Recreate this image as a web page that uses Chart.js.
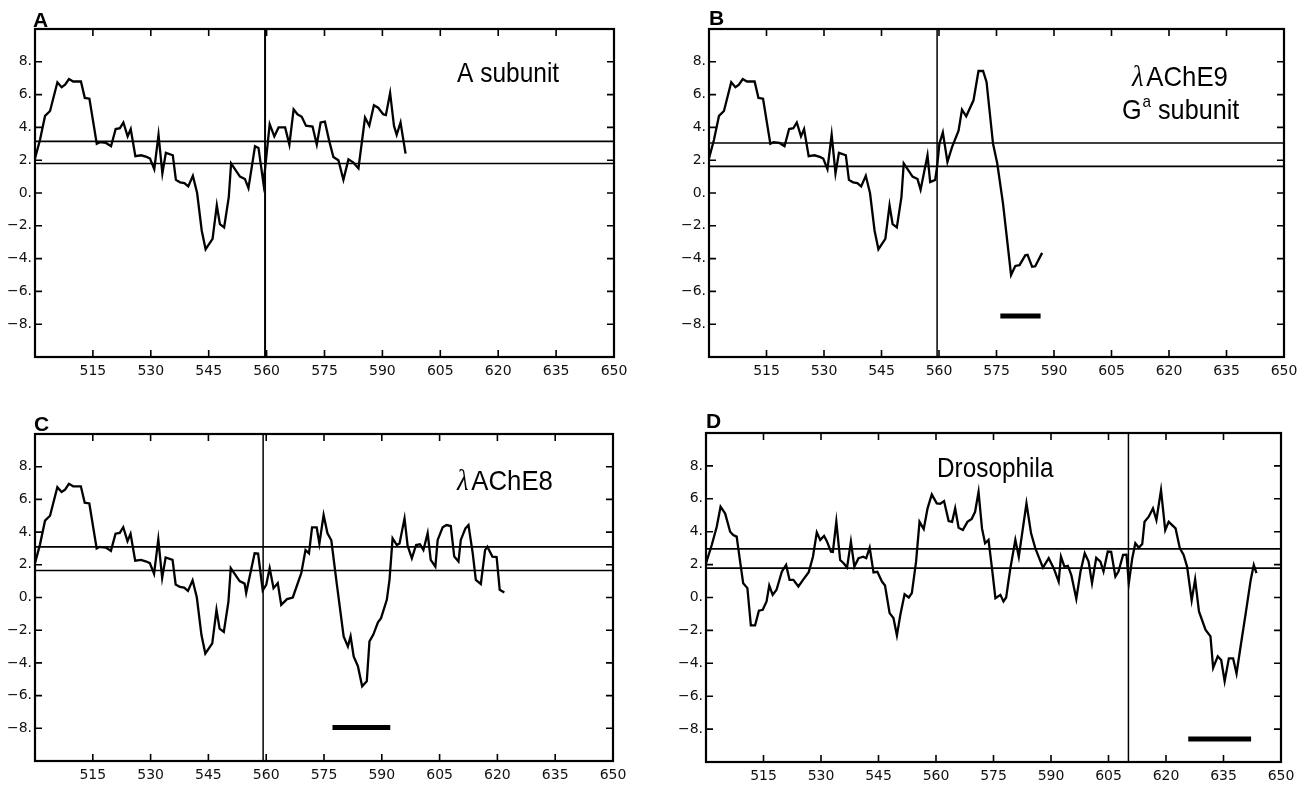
<!DOCTYPE html>
<html><head><meta charset="utf-8">
<script src="https://cdn.jsdelivr.net/npm/chart.js@4.4.1/dist/chart.umd.min.js"></script>
<style>
html,body{margin:0;padding:0;background:#fff;width:1305px;height:785px;overflow:hidden;position:relative}
canvas{position:absolute}
</style></head><body>
<canvas id="cA"></canvas><canvas id="cB"></canvas><canvas id="cC"></canvas><canvas id="cD"></canvas>
<script>
// ---------- data ----------
const xTicks = [515, 530, 545, 560, 575, 590, 605, 620, 635, 650];
const yTicks = [-8, -6, -4, -2, 0, 2, 4, 6, 8];

// shared part of the vertebrate profiles (residues 500-554)
const baseX = [500, 501.3, 502.6, 503.9, 505.8, 506.9, 507.8, 508.8, 509.9, 511.9, 512.9, 514.1, 516.0, 516.8, 518.4, 519.7, 520.9, 522.0, 522.9, 524.0, 524.8, 526.0, 527.5, 528.9, 529.8, 530.9, 532.0, 533.0, 533.9, 535.7, 536.5, 537.6, 538.7, 539.7, 540.9, 542.0, 543.2, 544.2, 546.0, 547.1, 547.9, 549.0, 550.2, 550.8, 553.1, 554.4];
const baseY = [2.1, 3.25, 4.7, 5.0, 6.75, 6.45, 6.6, 6.95, 6.8, 6.8, 5.8, 5.75, 3.0, 3.1, 3.05, 2.85, 3.9, 3.95, 4.3, 3.45, 3.9, 2.25, 2.3, 2.2, 2.1, 1.45, 3.55, 1.2, 2.45, 2.3, 0.8, 0.65, 0.6, 0.4, 1.05, 0.0, -2.3, -3.43, -2.8, -0.75, -1.9, -2.1, -0.25, 1.8, 1.0, 0.85];

const tailAX = [555.3, 557.0, 557.9, 559.2, 560.8, 562.0, 563.1, 564.8, 565.9, 567.0, 568.0, 569.1, 570.2, 571.9, 573.0, 574.0, 575.1, 576.3, 577.3, 578.6, 579.9, 581.2, 582.5, 583.8, 585.5, 586.6, 587.8, 588.9, 590.2, 590.9, 592.0, 593.0, 593.7, 594.7, 596.0];
const tailAY = [0.3, 2.85, 2.75, 0.55, 4.2, 3.45, 4.0, 4.0, 2.95, 5.1, 4.8, 4.65, 4.1, 4.05, 2.95, 4.3, 4.35, 3.1, 2.2, 2.0, 0.8, 2.05, 1.85, 1.5, 4.6, 4.1, 5.35, 5.2, 4.8, 4.75, 6.1, 4.1, 3.55, 4.3, 2.4];

const tailBX = [555.2, 557.0, 557.7, 559.0, 559.5, 560.1, 561.0, 562.2, 563.4, 565.1, 566.0, 567.1, 569.0, 570.3, 571.5, 572.4, 574.1, 575.2, 576.7, 578.8, 579.9, 581.0, 582.5, 583.1, 584.3, 585.1, 586.9];
const tailBY = [0.2, 2.3, 0.67, 0.8, 1.6, 3.0, 3.7, 1.9, 2.8, 3.8, 5.08, 4.68, 5.65, 7.44, 7.44, 6.77, 3.0, 1.8, -0.65, -5.0, -4.45, -4.4, -3.8, -3.77, -4.5, -4.47, -3.65];

const tailCX = [554.8, 557.0, 557.9, 559.1, 560.0, 560.9, 561.9, 563.0, 563.9, 565.4, 566.9, 569.1, 570.2, 571.1, 571.9, 573.1, 573.8, 574.9, 575.9, 576.9, 578.3, 580.1, 581.2, 581.9, 582.7, 583.8, 584.9, 586.1, 586.8, 587.8, 589.0, 589.8, 591.3, 592.0, 592.8, 593.9, 594.6, 595.9, 596.7, 597.8, 598.9, 599.9, 600.8, 601.9, 602.7, 603.9, 604.5, 605.8, 606.8, 607.9, 608.8, 609.9, 610.5, 611.7, 612.5, 613.6, 614.4, 615.7, 616.8, 617.4, 618.7, 619.8, 620.6, 621.8];
const tailCY = [0.27, 2.7, 2.68, 0.43, 0.77, 1.8, 0.57, 0.88, -0.45, -0.1, 0.0, 1.49, 2.9, 2.7, 4.29, 4.29, 3.3, 5.04, 3.93, 3.5, 0.87, -2.38, -2.99, -2.38, -3.6, -4.2, -5.43, -5.12, -2.68, -2.27, -1.52, -1.26, -0.14, 1.08, 3.62, 3.21, 3.3, 4.84, 3.17, 2.4, 3.21, 3.26, 2.9, 3.93, 2.3, 1.89, 3.52, 4.29, 4.43, 4.37, 2.5, 2.2, 3.52, 4.23, 4.43, 2.7, 1.08, 0.83, 2.9, 3.11, 2.5, 2.47, 0.47, 0.3];

const droX = [500, 501.5, 502.8, 503.8, 505.0, 506.3, 507.1, 508.0, 508.9, 509.7, 510.8, 511.7, 512.8, 513.8, 514.8, 515.8, 516.5, 517.4, 518.4, 519.8, 520.9, 521.8, 522.8, 524.1, 525.5, 526.8, 527.9, 528.9, 529.8, 530.8, 531.5, 532.6, 533.1, 534.0, 535.0, 535.9, 536.8, 537.8, 538.7, 539.8, 541.0, 541.8, 542.7, 543.7, 544.7, 545.9, 546.7, 547.9, 548.9, 549.8, 550.7, 551.8, 552.9, 553.7, 554.8, 555.7, 556.8, 557.8, 558.9, 560.2, 561.1, 562.1, 563.3, 564.2, 565.0, 565.9, 567.0, 568.2, 569.3, 570.2, 571.1, 572.0, 572.8, 573.7, 574.6, 575.5, 576.8, 577.6, 578.3, 579.4, 580.7, 581.6, 583.6, 584.8, 585.9, 587.9, 589.4, 590.7, 592.0, 592.6, 593.5, 594.4, 595.3, 596.6, 597.7, 598.8, 599.8, 600.7, 601.8, 602.9, 603.7, 604.8, 605.7, 606.8, 607.6, 608.8, 609.7, 610.3, 611.2, 612.0, 612.9, 613.8, 614.4, 615.5, 616.6, 617.5, 618.7, 619.8, 620.7, 622.5, 623.6, 624.6, 625.5, 626.7, 627.6, 628.6, 630.3, 631.6, 632.3, 633.5, 634.4, 635.3, 636.4, 637.5, 638.4, 639.4, 640.8, 642.1, 642.9, 643.6];
const droY = [2.08, 3.19, 4.3, 5.52, 5.1, 4.0, 3.8, 3.7, 2.18, 0.87, 0.57, -1.7, -1.7, -0.8, -0.75, -0.24, 0.73, 0.16, 0.47, 1.58, 1.98, 1.07, 1.07, 0.67, 1.13, 1.54, 2.48, 3.96, 3.5, 3.74, 3.44, 2.79, 2.77, 4.61, 2.28, 2.08, 1.82, 3.4, 1.88, 2.39, 2.48, 2.39, 3.03, 1.52, 1.56, 0.97, 0.73, -0.95, -1.25, -2.3, -1.05, 0.2, 0.0, 0.27, 2.18, 4.6, 4.16, 5.42, 6.27, 5.72, 5.7, 5.86, 4.65, 4.6, 5.42, 4.24, 4.1, 4.6, 4.77, 5.21, 6.42, 4.2, 3.3, 3.5, 1.78, -0.04, 0.16, -0.24, 0.0, 1.78, 3.5, 2.48, 5.72, 3.9, 3.0, 1.82, 2.39, 1.78, 0.97, 2.48, 1.88, 1.92, 1.37, -0.08, 1.58, 2.69, 2.18, 0.87, 2.42, 2.18, 1.58, 2.79, 2.77, 1.27, 1.58, 2.59, 2.6, 0.87, 2.39, 3.3, 3.03, 3.25, 4.6, 4.91, 5.42, 4.71, 6.53, 4.1, 4.6, 4.2, 3.0, 2.59, 1.88, -0.17, 1.1, -0.85, -1.96, -2.36, -4.28, -3.58, -3.8, -5.09, -3.7, -3.7, -4.62, -3.07, -0.95, 1.07, 1.98, 1.48];

// threshold lines [upper, lower], exon boundary, hydrophobic segment bar [start, end, level]
const thrA = [3.15, 1.8], thrB = [3.05, 1.62], thrC = [3.1, 1.65], thrD = [2.95, 1.78];
const boundaryA = 559.6, boundaryB = 559.5, boundaryC = 559.2, boundaryD = 610.2;
const barB = [576, 586.5, -7.5], barC = [577.2, 592.2, -7.95], barD = [625.8, 642.2, -8.6];

// ---------- drawing ----------
const X_MIN = 500, X_MAX = 650, Y_MIN = -10, Y_MAX = 10;
const PAD_L = 35, PAD_T = 30, PAD_R = 25, PAD_B = 28;

const panels = [
  {id:'cA', rect:[35,29,614,357], letter:'A', letterPos:[33,27],
   xs: baseX.concat(tailAX), ys: baseY.concat(tailAY), thr: thrA, boundary: boundaryA, bar: null,
   labels:[{parts:[{t:'A subunit'}], x:457, y:82, sx:0.875}]},
  {id:'cB', rect:[709,29,1284,357], letter:'B', letterPos:[709,25],
   xs: baseX.concat(tailBX), ys: baseY.concat(tailBY), thr: thrB, boundary: boundaryB, bar: barB,
   labels:[{parts:[{t:'λ', lam:true},{t:'AChE9'}], x:1132, y:86, sx:0.92},
           {parts:[{t:'G'},{t:'a', sup:true},{t:' subunit'}], x:1122, y:119, sx:0.9}]},
  {id:'cC', rect:[35,434,613,761], letter:'C', letterPos:[34,431],
   xs: baseX.concat(tailCX), ys: baseY.concat(tailCY), thr: thrC, boundary: boundaryC, bar: barC,
   labels:[{parts:[{t:'λ', lam:true},{t:'AChE8'}], x:457, y:490, sx:0.92}]},
  {id:'cD', rect:[706,433,1281,762], letter:'D', letterPos:[706,428],
   xs: droX, ys: droY, thr: thrD, boundary: boundaryD, bar: barD,
   labels:[{parts:[{t:'Drosophila'}], x:937, y:477, sx:0.87}]}
];

const SANS = '"Liberation Sans", Arial, sans-serif';

const framePlugin = {
  id: 'frame',
  afterDraw(chart, args, opts) {
    const {ctx, chartArea: a, scales: {x, y}} = chart;
    ctx.save();
    ctx.strokeStyle = '#000';
    ctx.lineWidth = 1.6;
    const L = 7;
    ctx.beginPath();
    x.ticks.forEach(t => {
      const px = x.getPixelForValue(t.value);
      if (px < a.right - 2) {
        ctx.moveTo(px, a.bottom); ctx.lineTo(px, a.bottom - L);
        ctx.moveTo(px, a.top); ctx.lineTo(px, a.top + L);
      }
    });
    y.ticks.forEach(t => {
      const py = y.getPixelForValue(t.value);
      ctx.moveTo(a.left, py); ctx.lineTo(a.left + L, py);
      ctx.moveTo(a.right, py); ctx.lineTo(a.right - L, py);
    });
    ctx.stroke();
    ctx.lineWidth = 2.2;
    ctx.strokeRect(a.left, a.top, a.right - a.left, a.bottom - a.top);

    // panel letter & labels
    const ox = opts.ox, oy = opts.oy;
    ctx.fillStyle = '#000';
    ctx.textBaseline = 'alphabetic';
    ctx.textAlign = 'left';
    ctx.font = 'bold 21px ' + SANS;
    ctx.fillText(opts.letter, opts.letterPos[0] - ox, opts.letterPos[1] - oy);

    opts.labels.forEach(lb => {
      ctx.save();
      ctx.translate(lb.x - ox, lb.y - oy);
      ctx.scale(lb.sx, 1);
      let cx = 0;
      lb.parts.forEach(p => {
        if (p.lam) {
          ctx.font = 'italic 29px "Liberation Serif", "DejaVu Serif", serif';
          ctx.fillText(p.t, cx, 0);
          cx += ctx.measureText(p.t).width + 3;
        } else if (p.sup) {
          ctx.font = '17px ' + SANS;
          ctx.fillText(p.t, cx + 1, -12);
          cx += ctx.measureText(p.t).width + 1;
        } else {
          ctx.font = '28px ' + SANS;
          ctx.fillText(p.t, cx, 0);
          cx += ctx.measureText(p.t).width;
        }
      });
      ctx.restore();
    });
    ctx.restore();
  }
};

function pts(xs, ys) { return xs.map((v, i) => ({x: v, y: ys[i]})); }

panels.forEach(p => {
  const [l, t, r, b] = p.rect;
  const cv = document.getElementById(p.id);
  const W = (r - l) + PAD_L + PAD_R, H = (b - t) + PAD_T + PAD_B;
  const ox = l - PAD_L, oy = t - PAD_T;
  cv.width = W; cv.height = H;
  cv.style.left = ox + 'px'; cv.style.top = oy + 'px';
  cv.style.width = W + 'px'; cv.style.height = H + 'px';

  const line = (data, w, extra) => Object.assign({data, borderColor: '#000', borderWidth: w,
    pointRadius: 0, pointHoverRadius: 0, tension: 0, fill: false}, extra || {});

  const datasets = [
    line([{x: X_MIN, y: p.thr[0]}, {x: X_MAX, y: p.thr[0]}], 1.7),
    line([{x: X_MIN, y: p.thr[1]}, {x: X_MAX, y: p.thr[1]}], 1.7),
    line([{x: p.boundary, y: Y_MIN}, {x: p.boundary, y: Y_MAX}], p.id === 'cA' ? 2 : 1.5),
    line(pts(p.xs, p.ys), 2.3, {borderJoinStyle: 'miter'})
  ];
  if (p.bar) datasets.push(line([{x: p.bar[0], y: p.bar[2]}, {x: p.bar[1], y: p.bar[2]}], 5, {borderCapStyle: 'butt'}));

  new Chart(cv, {
    type: 'line',
    data: {datasets},
    plugins: [framePlugin],
    options: {
      responsive: false, maintainAspectRatio: false, animation: false, devicePixelRatio: 1,
      layout: {padding: {left: 0, top: PAD_T, right: PAD_R, bottom: 0}},
      plugins: {legend: {display: false}, tooltip: {enabled: false},
        frame: {ox, oy, letter: p.letter, letterPos: p.letterPos, labels: p.labels}},
      scales: {
        x: {type: 'linear', min: X_MIN, max: X_MAX,
          grid: {display: false, drawTicks: false}, border: {display: false},
          afterBuildTicks: s => { s.ticks = xTicks.map(v => ({value: v})); },
          afterFit: s => { s.height = PAD_B; },
          ticks: {autoSkip: false, maxRotation: 0, padding: 6, color: '#111',
            font: {family: '"DejaVu Sans", sans-serif', size: 14},
            callback: v => String(v)}},
        y: {type: 'linear', min: Y_MIN, max: Y_MAX,
          grid: {display: false, drawTicks: false}, border: {display: false},
          afterBuildTicks: s => { s.ticks = yTicks.map(v => ({value: v})); },
          afterFit: s => { s.width = PAD_L; },
          ticks: {autoSkip: false, padding: 3, color: '#111',
            font: {family: '"DejaVu Sans", sans-serif', size: 14},
            callback: v => (v < 0 ? '\u2212' : '') + Math.abs(v) + '.'}}
      }
    }
  });
});
</script>
</body></html>
